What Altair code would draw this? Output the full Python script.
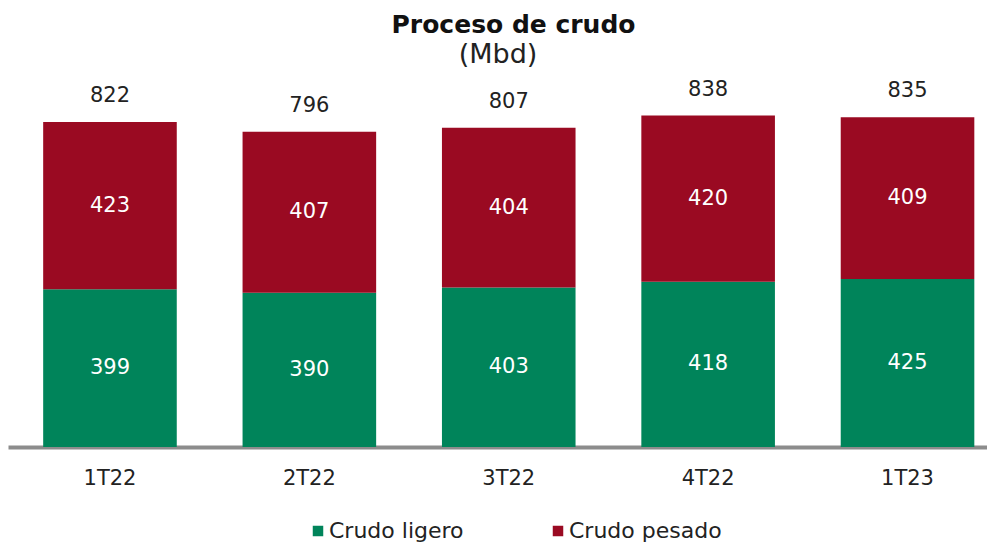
import altair as alt
import pandas as pd

trimestres = ["1T22", "2T22", "3T22", "4T22", "1T23"]
ligero = [399, 390, 403, 418, 425]
pesado = [423, 407, 404, 420, 409]
totales = [822, 796, 807, 838, 835]
series = ["Crudo ligero", "Crudo pesado"]
colores = ["#00845A", "#9A0A22"]
unidad = ["(Mbd)"]

FONT = "DejaVu Sans"

rows = []
for t, l, p in zip(trimestres, ligero, pesado):
    rows.append({"t": t, "serie": series[0], "valor": l, "orden": 0})
    rows.append({"t": t, "serie": series[1], "valor": p, "orden": 1})
df = pd.DataFrame(rows)
df_tot = pd.DataFrame({"t": trimestres, "total": totales})
df_unidad = pd.DataFrame({"u": unidad})

xenc = alt.X("t:N", sort=trimestres, title=None,
             scale=alt.Scale(paddingInner=0.33, paddingOuter=0.12, align=0.735),
             axis=alt.Axis(labelFontSize=21, labelFont=FONT, labelColor="#222222",
                           ticks=False, domainColor="#8C8C8C", domainWidth=4,
                           labelPadding=20, labelAngle=0))
yscale = alt.Scale(domain=[0, 928])

base = alt.Chart(df)
bars = base.mark_bar().encode(
    x=xenc,
    y=alt.Y("valor:Q", stack="zero", scale=yscale, axis=None),
    color=alt.Color("serie:N", sort=series,
                    scale=alt.Scale(domain=series, range=colores),
                    legend=alt.Legend(title=None, orient="none", direction="horizontal",
                                      legendX=299, legendY=440,
                                      symbolType="square", symbolSize=110,
                                      symbolStrokeWidth=0, symbolOpacity=1,
                                      labelFontSize=22, labelFont=FONT, labelColor="#222222",
                                      columnPadding=83, labelOffset=0)),
    order=alt.Order("orden:Q"),
)

inner = base.transform_stack(
    stack="valor", as_=["y0", "y1"], groupby=["t"], sort=[alt.SortField("orden")]
).transform_calculate(mid="(datum.y0 + datum.y1) / 2").mark_text(
    color="white", fontSize=21, font=FONT, baseline="middle"
).encode(
    x=alt.X("t:N", sort=trimestres),
    y=alt.Y("mid:Q", scale=yscale),
    text=alt.Text("valor:Q"),
)

tot = alt.Chart(df_tot).mark_text(
    color="#222222", fontSize=21, font=FONT, baseline="middle", dy=-26
).encode(
    x=alt.X("t:N", sort=trimestres),
    y=alt.Y("total:Q", scale=yscale),
    text=alt.Text("total:Q"),
)

sub = alt.Chart(df_unidad).mark_text(
    color="#222222", fontSize=27, font=FONT, baseline="middle", align="center"
).encode(
    x=alt.value(490), y=alt.value(-25), text="u:N"
)

chart = alt.layer(bars, inner, tot, sub).properties(
    width=979, height=367,
    autosize=alt.AutoSizeParams(type="none"),
    padding={"left": 0, "top": 72, "right": 0, "bottom": 95},
    title=alt.TitleParams("Proceso de crudo", anchor="middle",
                          fontSize=25, fontWeight="bold", font=FONT, color="#111111",
                          offset=3, dx=16),
).configure_view(stroke=None)

chart.save("out.html", embed_options={"renderer": "svg", "actions": False})
